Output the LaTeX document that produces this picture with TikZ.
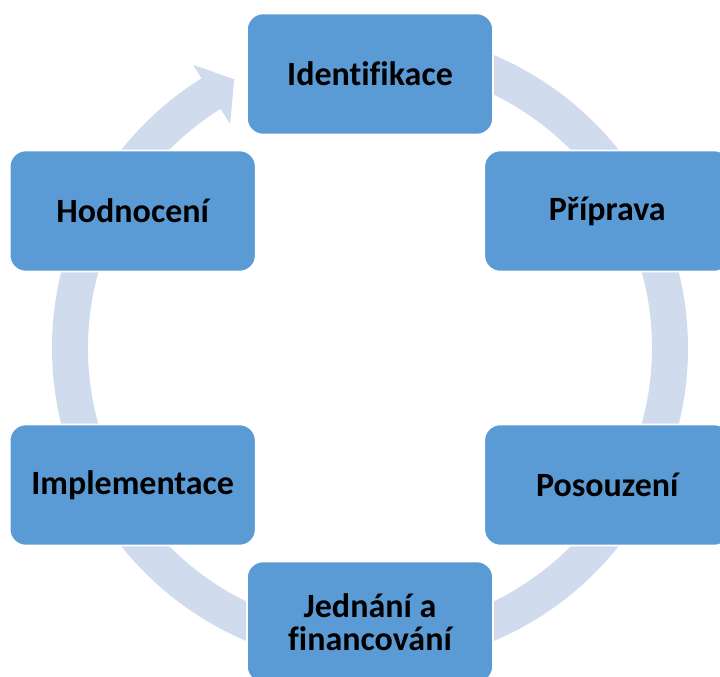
\documentclass[tikz,border=0pt]{standalone}
\usepackage{fontspec}
\setmainfont{Carlito}[Ligatures=NoCommon]
\usetikzlibrary{positioning}
\definecolor{boxblue}{HTML}{5B9BD5}
\definecolor{ringblue}{HTML}{D0DCEE}
\tikzset{
  stepbox/.style={draw=white,line width=0.8pt,fill=boxblue,rectangle,rounded corners=8pt,minimum width=123pt,minimum height=60.5pt,align=center,text=black,font=\fontsize{17}{16.5}\selectfont\bfseries},
  ringarr/.style={fill=ringblue}
}
\begin{document}
\begin{tikzpicture}[x=0.5pt,y=0.5pt]
  \useasboundingbox (-370,-329) rectangle (350,348);
  % Cycle arrow behind the steps
  \fill[ringarr] (95:318) arc[start angle=95,end angle=-238,radius=318]
    -- (-238:334) -- (-243.2:301) -- (-238:264) -- (-238:282)
    arc[start angle=-238,end angle=95,radius=282] -- cycle;

  % Steps
  \node[stepbox] (ident) at (90:274) {Identifikace};
  \node[stepbox] (prip) at (30:274) {Příprava};
  \node[stepbox] (posouz) at (-30:274) {Posouzení};
  \node[stepbox] (jedn) at (-90:274) {Jednání a\\financování};
  \node[stepbox] (impl) at (-150:274) {Implementace};
  \node[stepbox] (hodn) at (150:274) {Hodnocení};
\end{tikzpicture}
\end{document}
